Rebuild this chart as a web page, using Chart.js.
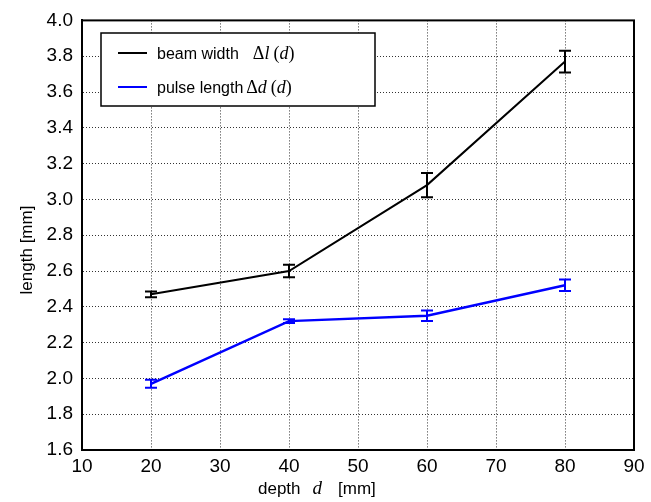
<!DOCTYPE html>
<html>
<head>
<meta charset="utf-8">
<script src="https://cdn.jsdelivr.net/npm/chart.js@4"></script>
<style>
  body { margin: 0; background: #fff; }
  #wrap { width: 651px; height: 502px; position: relative; }
</style>
</head>
<body>
<div id="wrap"><canvas id="lengthChart"></canvas></div>
<script>
// depth values (mm) and measured lengths (mm)
const depths = [20, 40, 60, 80];
const beamWidth = [2.47, 2.60, 3.08, 3.77];
const beamWidthErr = [0.016, 0.035, 0.068, 0.061];
const pulseLength = [1.97, 2.32, 2.35, 2.52];
const pulseLengthErr = [0.022, 0.01, 0.03, 0.032];

const xTicks = [10, 20, 30, 40, 50, 60, 70, 80, 90];
const yTicks = [1.6, 1.8, 2.0, 2.2, 2.4, 2.6, 2.8, 3.0, 3.2, 3.4, 3.6, 3.8, 4.0];

const sans = "'Liberation Sans', Arial, Helvetica, sans-serif";
const serif = "'Liberation Serif', 'Times New Roman', serif";

// draws a row of text pieces with their own fonts
function drawRuns(ctx, x, y, runs) {
    runs.forEach(function (r) {
        ctx.font = r[1];
        ctx.fillText(r[0], x, y);
        x += ctx.measureText(r[0]).width + (r[2] || 0);
    });
}

const errorBars = {
    id: "errorBars",
    afterDatasetsDraw(chart) {
        let ctx = chart.ctx;
        let xs = chart.scales.x, ys = chart.scales.y;
        chart.data.datasets.forEach(function (ds) {
            ctx.save();
            ctx.strokeStyle = ds.borderColor;
            ctx.lineWidth = 2;
            ds.data.forEach(function (p, i) {
                let px = xs.getPixelForValue(p.x);
                let top = ys.getPixelForValue(p.y + ds.errors[i]);
                let bot = ys.getPixelForValue(p.y - ds.errors[i]);
                ctx.beginPath();
                ctx.moveTo(px, top); ctx.lineTo(px, bot);
                ctx.moveTo(px - 6, top); ctx.lineTo(px + 6, top);
                ctx.moveTo(px - 6, bot); ctx.lineTo(px + 6, bot);
                ctx.stroke();
            });
            ctx.restore();
        });
    }
};

const frameAndLabels = {
    id: "frameAndLabels",
    afterDraw(chart) {
        let ctx = chart.ctx;
        let a = chart.chartArea;
        ctx.save();
        ctx.strokeStyle = "#000";
        ctx.lineWidth = 2;
        ctx.strokeRect(a.left, a.top, a.right - a.left, a.bottom - a.top);

        // legend box
        let lx = 101, ly = 33, lw = 274, lh = 73;
        ctx.fillStyle = "#fff";
        ctx.fillRect(lx, ly, lw, lh);
        ctx.lineWidth = 1.5;
        ctx.strokeRect(lx, ly, lw, lh);

        ctx.lineWidth = 2;
        ctx.strokeStyle = "#000";
        ctx.beginPath(); ctx.moveTo(118, 53); ctx.lineTo(147, 53); ctx.stroke();
        ctx.strokeStyle = "#0000ff";
        ctx.beginPath(); ctx.moveTo(118, 87); ctx.lineTo(147, 87); ctx.stroke();

        ctx.fillStyle = "#000";
        ctx.textBaseline = "alphabetic";
        ctx.textAlign = "left";
        drawRuns(ctx, 157, 59, [
            ["beam width", "16px " + sans, 14],
            ["\u0394", "18px " + serif],
            ["l", "italic 18px " + serif, 4],
            ["(", "18px " + serif],
            ["d", "italic 18px " + serif],
            [")", "18px " + serif]
        ]);
        drawRuns(ctx, 157, 93, [
            ["pulse length", "16px " + sans, 3],
            ["\u0394", "18px " + serif],
            ["d", "italic 18px " + serif, 4],
            ["(", "18px " + serif],
            ["d", "italic 18px " + serif],
            [")", "18px " + serif]
        ]);

        // axis titles
        drawRuns(ctx, 258, 494, [
            ["depth", "17px " + sans, 12],
            ["d", "italic 19px " + serif, 16],
            ["[mm]", "17px " + sans]
        ]);
        ctx.translate(32, 250);
        ctx.rotate(-Math.PI / 2);
        ctx.textAlign = "center";
        ctx.font = "17px " + sans;
        ctx.fillText("length [mm]", 0, 0);
        ctx.restore();
    }
};

let ctx = document.getElementById("lengthChart").getContext("2d");

new Chart(ctx, {
    type: "line",
    data: {
        datasets: [
            {
                label: "beam width",
                data: depths.map((d, i) => ({ x: d, y: beamWidth[i] })),
                errors: beamWidthErr,
                borderColor: "#000000",
                borderWidth: 2,
                pointRadius: 0,
                tension: 0,
                fill: false
            },
            {
                label: "pulse length",
                data: depths.map((d, i) => ({ x: d, y: pulseLength[i] })),
                errors: pulseLengthErr,
                borderColor: "#0000ff",
                borderWidth: 2.5,
                pointRadius: 0,
                tension: 0,
                fill: false
            }
        ]
    },
    options: {
        responsive: true,
        maintainAspectRatio: false,
        animation: false,
        layout: { padding: { top: 15, right: 17, left: 0, bottom: 0 } },
        plugins: {
            legend: { display: false },
            tooltip: { enabled: false }
        },
        scales: {
            x: {
                type: "linear",
                min: 10,
                max: 90,
                afterBuildTicks: (s) => { s.ticks = xTicks.map(v => ({ value: v })); },
                afterFit: (s) => { s.height = 52; },
                ticks: {
                    color: "#000",
                    font: { size: 19, family: sans },
                    padding: 5,
                    maxRotation: 0
                },
                grid: {
                    color: "#333",
                    lineWidth: 1,
                    drawTicks: false
                },
                border: { color: "#000", width: 2, dash: [1, 2] }
            },
            y: {
                min: 1.6,
                max: 4.0,
                afterBuildTicks: (s) => { s.ticks = yTicks.map(v => ({ value: v })); },
                afterFit: (s) => { s.width = 82; },
                ticks: {
                    color: "#000",
                    font: { size: 19, family: sans },
                    padding: 9,
                    callback: (v) => v.toFixed(1)
                },
                grid: {
                    color: "#333",
                    lineWidth: 1,
                    drawTicks: false
                },
                border: { color: "#000", width: 2, dash: [1, 2] }
            }
        }
    },
    plugins: [errorBars, frameAndLabels]
});
</script>
</body>
</html>
